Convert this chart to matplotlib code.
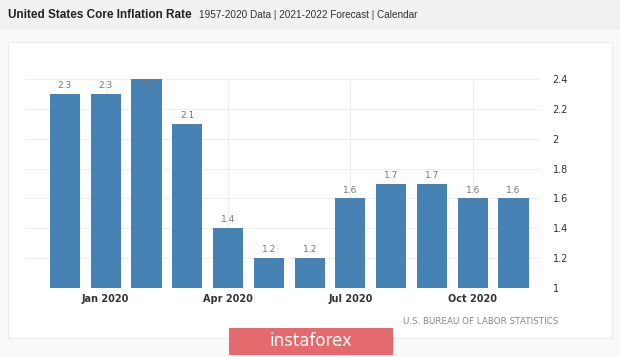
import matplotlib.pyplot as plt
from matplotlib.patches import Rectangle

months = ['Dec 2019', 'Jan 2020', 'Feb 2020', 'Mar 2020', 'Apr 2020', 'May 2020',
          'Jun 2020', 'Jul 2020', 'Aug 2020', 'Sep 2020', 'Oct 2020', 'Nov 2020']
rates = [2.3, 2.3, 2.4, 2.1, 1.4, 1.2, 1.2, 1.6, 1.7, 1.7, 1.6, 1.6]
tick_months = ['Jan 2020', 'Apr 2020', 'Jul 2020', 'Oct 2020']
y_ticks = [1, 1.2, 1.4, 1.6, 1.8, 2, 2.2, 2.4]

fig = plt.figure(figsize=(6.2, 3.57), dpi=100)
fig.patch.set_facecolor('#f9f9f9')

# header strip and white panel
fig.patches.append(Rectangle((0, 1 - 30 / 357), 1, 30 / 357, transform=fig.transFigure,
                             facecolor='#f1f1f1', edgecolor='none', zorder=0))
fig.patches.append(Rectangle((8 / 620, 1 - 338 / 357), 604 / 620, 296 / 357, transform=fig.transFigure,
                             facecolor='white', edgecolor='#ececec', lw=0.8, zorder=0))

fig.text(8 / 620, 1 - 15 / 357, 'United States Core Inflation Rate', fontsize=8.5,
         fontweight='bold', color='#222222', va='center', family='Liberation Sans')
fig.text(199 / 620, 1 - 15 / 357, '1957-2020 Data | 2021-2022 Forecast | Calendar', fontsize=7.2,
         color='#333333', va='center', family='Liberation Sans')

ax = fig.add_axes([25 / 620, 1 - 288 / 357, 515 / 620, 209 / 357])
ax.set_zorder(2)
ax.set_facecolor('none')
x = list(range(len(months)))
ax.bar(x, rates, width=0.74, bottom=0, color='#4682b4', zorder=3)
ax.set_ylim(1, 2.4)
ax.set_xlim(-0.98, 11.65)

for xi, v in zip(x, rates):
    off = 6 if v + 0.08 <= 2.4 else -5
    ax.annotate(str(v), (xi, v), xytext=(0, off), textcoords='offset points',
                ha='center', va='center', fontsize=6.5, color='#777777', zorder=4,
                annotation_clip=False)

ax.set_yticks(y_ticks)
ax.set_yticklabels([f'{t:g}' for t in y_ticks])
ax.yaxis.tick_right()
ax.tick_params(axis='y', length=0, pad=9, labelsize=7, labelcolor='#333333')
ax.set_xticks([months.index(m) for m in tick_months])
ax.set_xticklabels(tick_months)
ax.tick_params(axis='x', length=0, pad=4, labelsize=7)
for lab in ax.get_xticklabels():
    lab.set_fontweight('bold')
    lab.set_color('#333333')

ax.grid(True, color='#eeeeee', lw=0.8, zorder=0)
for s in ax.spines.values():
    s.set_visible(False)

fig.text(558 / 620, 1 - 321 / 357, 'U.S. BUREAU OF LABOR STATISTICS', fontsize=6.3,
         color='#888888', ha='right', va='center')

fig.patches.append(Rectangle((229 / 620, 1 - 355 / 357), 164 / 620, 27 / 357,
                             transform=fig.transFigure,
                             facecolor='#e46a6e', edgecolor='none', zorder=5))
fig.text(311 / 620, 1 - 341 / 357, 'instaforex', fontsize=12, color='white',
         ha='center', va='center', zorder=6, family='DejaVu Sans')

fig.savefig('out.png', dpi=100, facecolor=fig.get_facecolor())
